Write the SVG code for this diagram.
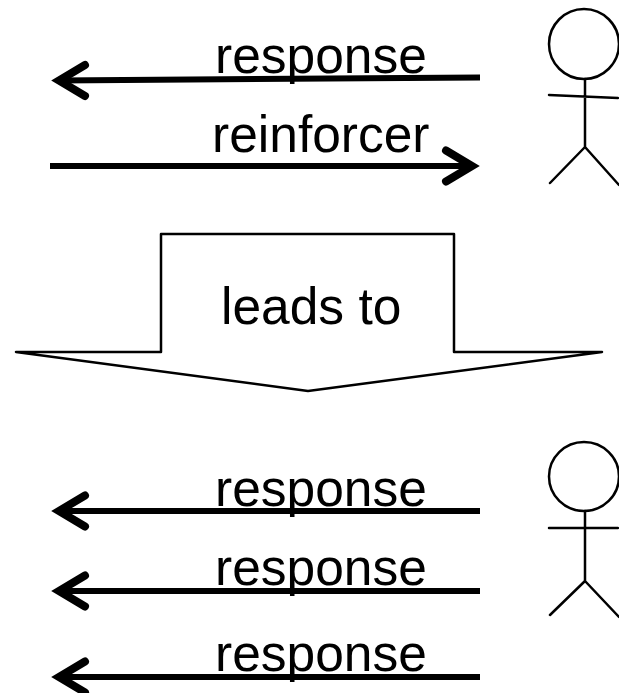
<svg xmlns="http://www.w3.org/2000/svg" width="619" height="693" viewBox="0 0 619 693">
<style>
text{font-family:"Liberation Sans",Arial,sans-serif;font-size:51.500px;fill:#000}
.c{fill:none;stroke:#000;stroke-width:6}
.h{fill:none;stroke:#000;stroke-width:8;stroke-linecap:round;stroke-linejoin:miter}
.f{fill:none;stroke:#000;stroke-width:2.5;stroke-linecap:round}
</style>
<rect width="619" height="693" fill="#fff"/>
<g id="connectors">
<path class="c" d="M480 77.500L58 80.500"/><path class="h" d="M85 65L59 80.500L85 96"/>
<path class="c" d="M50 166H472"/><path class="h" d="M446 150.500L472 166L446 181.500"/>
<path class="c" d="M480 511H58"/><path class="h" d="M85 495.500L59 511L85 526.500"/>
<path class="c" d="M480 591H58"/><path class="h" d="M85 575.500L59 591L85 606.500"/>
<path class="c" d="M480 677H58"/><path class="h" d="M85 661.500L59 677L85 692.500"/>
</g>
<g id="label-response-1"><text x="215" y="73">response</text></g>
<g id="label-reinforcer"><text x="212" y="151.500">reinforcer</text></g>
<g id="block-arrow"><path d="M16 352H161V234H454V352H602L308 391Z" fill="#fff" stroke="#000" stroke-width="2.500" stroke-linejoin="round"/><text x="221" y="323.500">leads to</text></g>
<g id="figure-top"><ellipse class="f" cx="584" cy="44" rx="35" ry="35"/><path class="f" d="M585 79V147M549 95L618 98M585 147L550 183M585 147L619 185"/></g>
<g id="figure-bottom"><ellipse class="f" cx="584" cy="476.500" rx="35" ry="34.500"/><path class="f" d="M585 511V581M549 528H618M585 581L550 615M585 581L619 617"/></g>
<g id="label-response-2"><text x="215" y="505.500">response</text></g>
<g id="label-response-3"><text x="215" y="584.500">response</text></g>
<g id="label-response-4"><text x="215" y="670.500">response</text></g>
</svg>
